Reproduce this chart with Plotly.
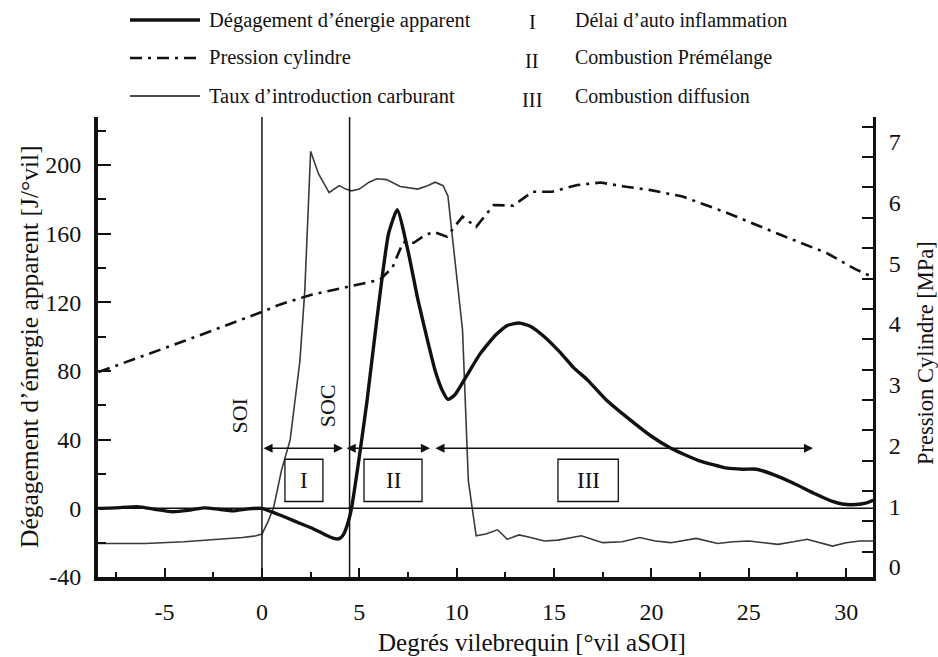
import plotly.graph_objects as go

# ---------------------------------------------------------------
# Data (crank angle in °vil after start of injection)
# ---------------------------------------------------------------
# Apparent heat release rate [J/°vil] (left scale)
crank_hr = [-8.4, -7.5, -6.4, -5.5, -4.6, -3.8, -3.0, -2.2, -1.5, -0.7, 0.0,
            0.6, 1.3, 2.0, 2.6, 3.1, 3.5, 3.8, 4.0, 4.2, 4.4, 4.6, 5.0, 5.4,
            5.9, 6.5, 6.95, 7.5, 8.0, 8.5, 8.9, 9.25, 9.55, 9.9, 10.5, 11.2,
            12.0, 12.6, 13.2, 13.8, 14.5, 15.3, 16.0, 16.7, 17.7, 18.75, 20.0,
            21.0, 22.4, 23.9, 24.7, 25.4, 26.3, 27.3, 28.4, 29.3, 29.8, 30.5,
            31.0, 31.4]
heat_release = [0.0, 0.3, 1.0, -0.5, -2.0, -1.2, 0.3, -0.5, -1.5, -0.3, 0.0,
                -2.5, -5.6, -9.0, -11.7, -14.5, -16.7, -17.8, -17.5, -15.0,
                -9.0, 0.0, 30.0, 63.0, 110.0, 160.0, 174.0, 150.0, 122.0, 98.0,
                80.0, 69.0, 63.5, 66.0, 77.0, 90.0, 101.0, 106.5, 108.0, 106.0,
                100.0, 91.0, 82.0, 75.0, 63.0, 53.0, 42.0, 35.0, 28.0, 23.4,
                22.8, 22.8, 19.5, 14.6, 8.5, 4.0, 2.5, 2.2, 3.0, 4.7]

# Fuel injection rate (drawn on the left scale)
crank_inj = [-8.4, -6.0, -4.0, -2.0, -1.0, -0.3, 0.0, 0.3, 0.6, 1.0, 1.45,
             1.95, 2.2, 2.5, 2.9, 3.45, 3.7, 3.97, 4.3, 4.6, 5.0, 5.5, 5.9,
             6.4, 7.1, 7.6, 8.0, 8.5, 8.9, 9.3, 9.55, 9.8, 10.3, 10.6, 11.0,
             11.5, 12.1, 12.6, 13.2, 13.8, 14.5, 15.2, 16.4, 17.5, 18.5, 19.4,
             20.2, 21.0, 22.3, 23.4, 24.2, 25.0, 26.5, 27.3, 28.0, 29.3, 30.0,
             30.7, 31.4]
injection_rate = [-20.5, -20.5, -19.5, -18.0, -17.0, -16.0, -15.0, -8.0, 0.5,
                  22.0, 40.0, 86.0, 127.0, 208.0, 195.0, 184.0, 186.0, 188.0,
                  186.0, 185.0, 186.0, 190.0, 192.0, 191.5, 187.5, 186.5,
                  186.0, 188.0, 190.0, 188.0, 182.0, 156.0, 104.0, 16.0, -16.0,
                  -15.0, -12.5, -18.0, -15.5, -17.0, -19.0, -18.5, -16.0, -20.0,
                  -19.5, -17.0, -19.0, -20.0, -17.5, -20.5, -19.5, -19.0, -21.0,
                  -19.5, -18.0, -22.0, -20.0, -19.0, -19.0]

# Cylinder pressure [MPa] (right scale)
crank_p = [-8.4, -4.0, 0.0, 0.9, 2.5, 4.5, 6.06, 6.7, 7.0, 7.25, 7.8, 8.3,
           8.8, 9.5, 10.3, 11.0, 11.9, 12.9, 13.9, 14.9, 16.2, 17.4, 18.7,
           19.9, 21.6, 23.9, 26.4, 29.0, 30.5, 31.4]
pressure = [3.21, 3.72, 4.20, 4.32, 4.48, 4.62, 4.73, 4.93, 5.15, 5.35, 5.34,
            5.45, 5.52, 5.44, 5.77, 5.60, 5.96, 5.95, 6.18, 6.18, 6.29, 6.33,
            6.26, 6.21, 6.10, 5.83, 5.50, 5.17, 4.90, 4.77]

# Start of injection / start of combustion
event_names = ["SOI", "SOC"]
event_crank = [0.0, 4.5]

# Combustion phases
phase_numerals = ["I", "II", "III"]
phase_names = ["Délai d’auto inflammation", "Combustion Prémélange",
               "Combustion diffusion"]
phase_start = [0.0, 4.27, 8.83]
phase_end = [4.16, 8.63, 28.3]

series_names = ["Dégagement d’énergie apparent", "Pression cylindre",
                "Taux d’introduction carburant"]

x_ticks = [-5, 0, 5, 10, 15, 20, 25, 30]
y_ticks = [-40, 0, 40, 80, 120, 160, 200]
p_ticks = [0, 1, 2, 3, 4, 5, 6, 7]

# ---------------------------------------------------------------
# Figure geometry
# ---------------------------------------------------------------
W, H = 938, 657
L, R, T, B = 98, 65, 117, 80
PW, PH = W - L - R, H - T - B
FONT = "Liberation Serif, Times New Roman, Tinos, DejaVu Serif, serif"
INK = "#111111"
DASHDOT = "12px,6px,3px,6px"


def px(xp):
    return (xp - L) / PW


def py(yp):
    return (H - B - yp) / PH


def label(x, y, text, size, xanchor="center", angle=0, xref="paper",
          yref="paper"):
    return dict(x=x, y=y, xref=xref, yref=yref, text=text, showarrow=False,
                xanchor=xanchor, yanchor="middle", textangle=angle,
                font=dict(family=FONT, size=size, color=INK))


fig = go.Figure()

fig.add_trace(go.Scatter(
    x=crank_inj, y=injection_rate, mode="lines", name=series_names[2],
    line=dict(color="#3a3a3a", width=1.6), showlegend=False))

fig.add_trace(go.Scatter(
    x=crank_p, y=pressure, mode="lines", name=series_names[1], yaxis="y2",
    line=dict(color=INK, width=2.6, dash=DASHDOT), showlegend=False))

fig.add_trace(go.Scatter(
    x=crank_hr, y=heat_release, mode="lines", name=series_names[0],
    line=dict(color=INK, width=3.4, shape="spline", smoothing=0.5),
    showlegend=False))

shapes = []
annotations = []

# zero line
shapes.append(dict(type="line", xref="paper", yref="y", x0=0, x1=1, y0=0, y1=0,
                   line=dict(color=INK, width=1.5)))

# SOI / SOC markers
for name, xc, dx, yt in zip(event_names, event_crank, [-1.13, -1.16], [54, 60]):
    shapes.append(dict(type="line", xref="x", yref="paper", x0=xc, x1=xc,
                       y0=0, y1=1, line=dict(color=INK, width=1.5)))
    annotations.append(label(xc + dx, yt, name, 22, angle=-90,
                             xref="x", yref="y"))

# phase arrows and boxes
box_x = [(1.18, 3.13), (5.24, 8.22), (15.2, 18.3)]
for num, xs, xe, (bx0, bx1) in zip(phase_numerals, phase_start, phase_end, box_x):
    annotations.append(dict(x=xe, y=35, ax=xs, ay=35, xref="x", yref="y",
                            axref="x", ayref="y", text="", showarrow=True,
                            arrowhead=2, startarrowhead=2, arrowside="end+start",
                            arrowsize=1.3, startarrowsize=1.3, arrowwidth=1.4,
                            arrowcolor=INK, standoff=0, startstandoff=0))
    shapes.append(dict(type="rect", xref="x", yref="y", x0=bx0, x1=bx1,
                       y0=4, y1=28.6, line=dict(color=INK, width=1.3),
                       fillcolor="white"))
    annotations.append(label((bx0 + bx1) / 2, 16.3, num, 23,
                             xref="x", yref="y"))

# key at the top of the page
key_rows = [20, 58, 96]
key_styles = [dict(width=3.4), dict(width=2.6, dash=DASHDOT), dict(width=1.6)]
for name, yr, st in zip(series_names, key_rows, key_styles):
    shapes.append(dict(type="line", xref="paper", yref="paper",
                       x0=px(130), x1=px(200), y0=py(yr), y1=py(yr),
                       line=dict(color=INK, **st)))
    annotations.append(label(px(207), py(yr), name, 20.5, xanchor="left"))
for num, name, yr, yn in zip(phase_numerals, phase_names, key_rows, [22, 61, 100]):
    annotations.append(label(px(532), py(yn), num, 20.5))
    annotations.append(label(px(573), py(yr), name, 20, xanchor="left"))

# axis titles
annotations.append(label(px(532), py(642), "Degrés vilebrequin [°vil aSOI]", 25))
annotations.append(label(px(29), py(347),
                         "Dégagement d’énergie apparent [J/°vil]", 25.5,
                         angle=-90))
annotations.append(label(px(925), py(353), "Pression Cylindre [MPa]", 22.5,
                         angle=-90))

tickfont = dict(family=FONT, size=24, color=INK)
fig.update_layout(
    width=W, height=H,
    margin=dict(l=L, r=R, t=T, b=B, pad=0),
    paper_bgcolor="white", plot_bgcolor="white",
    showlegend=False,
    font=dict(family=FONT, color=INK),
    shapes=shapes, annotations=annotations,
    xaxis=dict(range=[-8.42, 31.38], tickvals=x_ticks,
               ticktext=[str(v) for v in x_ticks], ticks="inside",
               ticklen=9, tickwidth=2, tickcolor=INK, showgrid=False,
               zeroline=False, showline=True, linewidth=4, linecolor=INK,
               tickfont=tickfont, ticklabelstandoff=10,
               minor=dict(ticks="inside", ticklen=5, tickwidth=1.5,
                          tickcolor=INK, tick0=2.5, dtick=5, showgrid=False)),
    yaxis=dict(range=[-40, 228], tickvals=y_ticks,
               ticktext=[str(v) for v in y_ticks], ticks="inside",
               ticklen=13, tickwidth=2, tickcolor=INK, showgrid=False,
               zeroline=False, showline=True, linewidth=4, linecolor=INK,
               tickfont=tickfont, ticklabelstandoff=8,
               minor=dict(ticks="inside", ticklen=8, tickwidth=1.5,
                          tickcolor=INK, tick0=20, dtick=40, showgrid=False)),
    yaxis2=dict(range=[-0.165, 7.41], overlaying="y", side="right",
                tickvals=p_ticks, ticktext=[str(v) for v in p_ticks],
                ticks="inside", ticklen=0, showgrid=False,
                zeroline=False, showline=True, linewidth=3, linecolor=INK,
                tickfont=tickfont, ticklabelstandoff=8,
                minor=dict(ticks="inside", ticklen=11, tickwidth=2,
                           tickcolor=INK, tick0=0.25, dtick=0.5,
                           showgrid=False)),
)

fig.write_html("out.html")
